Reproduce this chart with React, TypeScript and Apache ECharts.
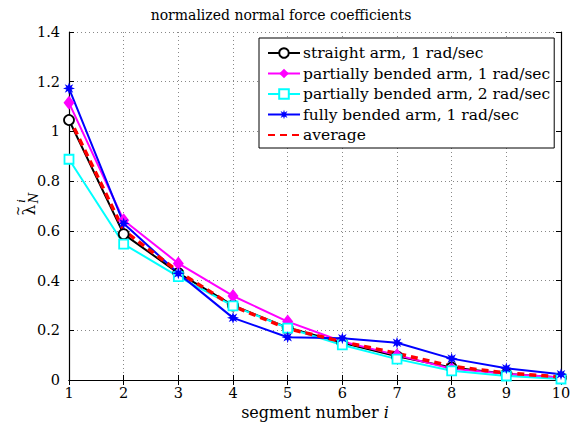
import React, { useEffect, useRef } from "react";
import * as echarts from "echarts";

const segments = [1, 2, 3, 4, 5, 6, 7, 8, 9, 10];
const straight1 = [1.046, 0.587, 0.43, 0.3, 0.21, 0.15, 0.095, 0.05, 0.025, 0.01];
const partial1 = [1.115, 0.643, 0.469, 0.338, 0.235, 0.155, 0.1, 0.045, 0.025, 0.01];
const partial2 = [0.888, 0.547, 0.416, 0.298, 0.209, 0.141, 0.084, 0.037, 0.016, 0.004];
const fully1 = [1.173, 0.63, 0.429, 0.25, 0.172, 0.168, 0.15, 0.086, 0.047, 0.023];
const average = [1.056, 0.602, 0.436, 0.297, 0.207, 0.154, 0.107, 0.055, 0.028, 0.012];
const seriesNames = [
  "straight arm, 1 rad/sec",
  "partially bended arm, 1 rad/sec",
  "partially bended arm, 2 rad/sec",
  "fully bended arm, 1 rad/sec",
  "average",
];

const FONT = "'DejaVu Serif', 'Liberation Serif', serif";
const starPath =
  "path://M0,-10 L1.8,-4.3 L7.1,-7.1 L4.3,-1.8 L10,0 L4.3,1.8 L7.1,7.1 L1.8,4.3 L0,10 L-1.8,4.3 L-7.1,7.1 L-4.3,1.8 L-10,0 L-4.3,-1.8 L-7.1,-7.1 L-1.8,-4.3 Z";

export default function App() {
  const ref = useRef<HTMLDivElement>(null);
  useEffect(() => {
    if (!ref.current) return;
    const chart = echarts.init(ref.current, undefined, { renderer: "svg" });
    const pair = (arr: number[]) => segments.map((s, i) => [s, arr[i]]);
    const axisCommon = {
      axisLine: { show: true, lineStyle: { color: "#000", width: 1.2 } },
      axisTick: { show: true, inside: true, length: 5, lineStyle: { color: "#000" } },
    };
    chart.setOption({
      animation: false,
      backgroundColor: "#fff",
      textStyle: { fontFamily: FONT },
      title: {
        text: "normalized normal force coefficients",
        left: 276,
        textAlign: "center",
        top: 3,
        textStyle: { fontFamily: FONT, fontSize: 14, fontWeight: "normal", color: "#000" },
      },
      grid: { left: 69, right: 25, top: 32, bottom: 46 },
      xAxis: [
        {
          type: "value",
          min: 1,
          max: 10,
          interval: 1,
          position: "bottom",
          ...axisCommon,
          axisLabel: { color: "#000", fontSize: 14.5, fontFamily: FONT, margin: 5 },
          splitLine: { show: true, lineStyle: { color: "#888", type: [1, 3], width: 1 } },
          name: "segment number {i|i}",
          nameLocation: "middle",
          nameGap: 22,
          nameTextStyle: {
            color: "#000",
            fontSize: 16,
            fontFamily: FONT,
            rich: { i: { fontStyle: "italic", fontSize: 16, fontFamily: FONT, color: "#000" } },
          },
        },
        {
          type: "value",
          min: 1,
          max: 10,
          interval: 1,
          position: "top",
          ...axisCommon,
          axisLabel: { show: false },
          splitLine: { show: false },
        },
      ],
      yAxis: [
        {
          type: "value",
          min: 0,
          max: 1.4,
          interval: 0.2,
          position: "left",
          ...axisCommon,
          axisLabel: { color: "#000", fontSize: 14.5, fontFamily: FONT, margin: 9 },
          splitLine: { show: true, lineStyle: { color: "#888", type: [1, 3], width: 1 } },
        },
        {
          type: "value",
          min: 0,
          max: 1.4,
          interval: 0.2,
          position: "right",
          ...axisCommon,
          axisLabel: { show: false },
          splitLine: { show: false },
        },
      ],
      legend: {
        orient: "vertical",
        left: 259,
        top: 38,
        itemWidth: 32,
        itemHeight: 12,
        itemGap: 4.5,
        padding: [7, 4, 5, 8],
        borderColor: "#000",
        borderWidth: 1,
        backgroundColor: "#fff",
        textStyle: { fontFamily: FONT, fontSize: 15.5, color: "#000", padding: [0, 0, 0, -2] },
        data: seriesNames.map((n, i) =>
          i === 4 ? { name: n, itemStyle: { color: "rgba(0,0,0,0)", borderWidth: 0 } } : { name: n }
        ),
      },
      graphic: [
        {
          type: "group",
          x: 34,
          y: 208,
          rotation: Math.PI / 2,
          children: [
            {
              type: "text",
              x: -2,
              y: -5,
              style: { text: "λ", fontFamily: FONT, fontSize: 17, fill: "#000", align: "center", verticalAlign: "middle" },
            },
            {
              type: "text",
              x: -3,
              y: -16,
              style: { text: "~", fontFamily: FONT, fontSize: 12, fill: "#000", align: "center", verticalAlign: "middle" },
            },
            {
              type: "text",
              x: 7,
              y: -13,
              style: { text: "i", fontFamily: FONT, fontStyle: "italic", fontSize: 11, fill: "#000", align: "center", verticalAlign: "middle" },
            },
            {
              type: "text",
              x: 10,
              y: 0,
              style: { text: "N", fontFamily: FONT, fontStyle: "italic", fontSize: 12, fill: "#000", align: "center", verticalAlign: "middle" },
            },
          ],
        },
      ],
      series: [
        {
          name: seriesNames[0],
          type: "line",
          data: pair(straight1),
          symbol: "circle",
          symbolSize: 10,
          lineStyle: { color: "#000", width: 2 },
          itemStyle: { color: "#fff", borderColor: "#000", borderWidth: 1.8 },
          color: "#000",
        },
        {
          name: seriesNames[1],
          type: "line",
          data: pair(partial1),
          symbol: "diamond",
          symbolSize: [11, 14],
          lineStyle: { color: "#ff00ff", width: 2 },
          itemStyle: { color: "#ff00ff" },
          color: "#ff00ff",
        },
        {
          name: seriesNames[2],
          type: "line",
          data: pair(partial2),
          symbol: "rect",
          symbolSize: 9,
          lineStyle: { color: "#00ffff", width: 2 },
          itemStyle: { color: "#fff", borderColor: "#00ffff", borderWidth: 1.8 },
          color: "#00ffff",
        },
        {
          name: seriesNames[3],
          type: "line",
          data: pair(fully1),
          symbol: starPath,
          symbolSize: 12,
          lineStyle: { color: "#0000ff", width: 2 },
          itemStyle: { color: "#0000ff" },
          color: "#0000ff",
        },
        {
          name: seriesNames[4],
          type: "line",
          data: pair(average),
          symbol: "none",
          lineStyle: { color: "#ff0000", width: 3.5, type: [7, 5] },
          itemStyle: { color: "#ff0000" },
          color: "#ff0000",
        },
      ],
    });
    return () => chart.dispose();
  }, []);
  return <div ref={ref} style={{ width: 586, height: 426, position: "absolute", left: 0, top: 0 }} />;
}
